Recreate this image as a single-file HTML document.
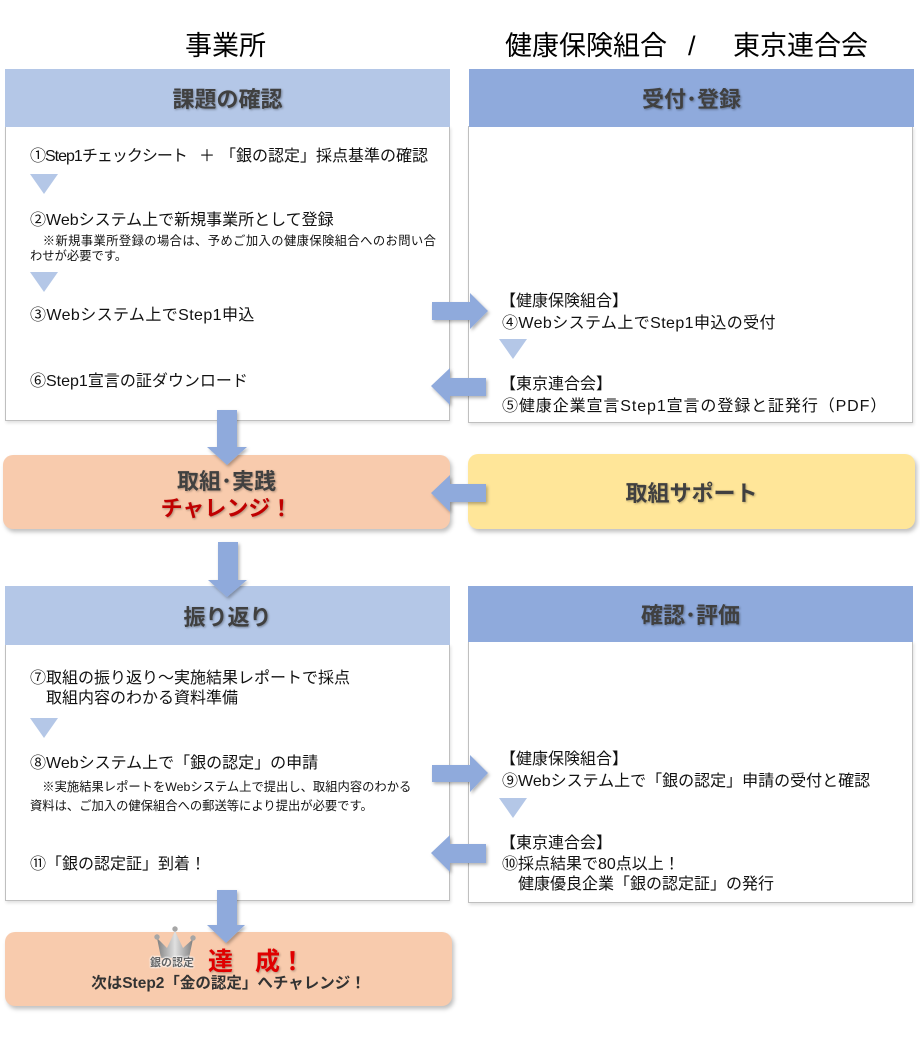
<!DOCTYPE html>
<html><head><meta charset="utf-8">
<style>
*{margin:0;padding:0;box-sizing:border-box}
html,body{width:920px;height:1041px;background:#fff;overflow:hidden}
body{position:relative;font-family:"Liberation Sans","Noto Sans CJK JP",sans-serif;color:#111}
.a{position:absolute;white-space:nowrap}
.title{font-size:27px;line-height:27px;color:#000}
.hdr{position:absolute;display:flex;align-items:center;justify-content:center;font-size:22px;font-weight:bold;color:#404040;text-shadow:1px 1px 2px rgba(0,0,0,.35)}
.body{position:absolute;border:1.5px solid #bfbfbf;border-top:none;background:#fff;box-shadow:1px 2px 3px rgba(0,0,0,.12)}
.t{font-size:16px;line-height:20px}
.n{font-size:12.3px;line-height:16px}
.tri{position:absolute;width:0;height:0;border-left:14px solid transparent;border-right:14px solid transparent;border-top:20px solid #b4c7e7}
.rbox{position:absolute;border-radius:10px;box-shadow:2px 3px 4px rgba(0,0,0,.25)}
svg{position:absolute;left:0;top:0}
</style></head><body>

<div class="a title" style="left:185px;top:33px">事業所</div>
<div class="a title" style="left:505px;top:33px">健康保険組合</div>
<div class="a title" style="left:688px;top:33px">/</div>
<div class="a title" style="left:733px;top:33px">東京連合会</div>

<!-- Section 1 left -->
<div class="body" style="left:5px;top:126px;width:445px;height:295px"></div>
<div class="hdr" style="left:5px;top:69px;width:445px;height:58px;background:#b4c7e7">課題の確認</div>
<!-- Section 1 right -->
<div class="body" style="left:468px;top:126px;width:445px;height:297px"></div>
<div class="hdr" style="left:469px;top:69px;width:445px;height:58px;background:#8faadc">受付･登録</div>

<div class="a t" style="left:30px;top:147px;letter-spacing:-1px">①Step1チェックシート</div>
<div class="a t" style="left:199px;top:147px">＋</div>
<div class="a t" style="left:220px;top:147px">「銀の認定」採点基準の確認</div>
<div class="tri" style="left:30px;top:174px"></div>
<div class="a t" style="left:30px;top:211px">②Webシステム上で新規事業所として登録</div>
<div class="a n" style="left:30px;top:233px;letter-spacing:0.4px">　※新規事業所登録の場合は、予めご加入の健康保険組合へのお問い合</div>
<div class="a n" style="left:30px;top:248px">わせが必要です。</div>
<div class="tri" style="left:30px;top:272px"></div>
<div class="a t" style="left:30px;top:306px;letter-spacing:0.4px">③Webシステム上でStep1申込</div>
<div class="a t" style="left:30px;top:372px">⑥Step1宣言の証ダウンロード</div>

<div class="a t" style="left:500px;top:292px">【健康保険組合】</div>
<div class="a t" style="left:502px;top:314px;letter-spacing:0.4px">④Webシステム上でStep1申込の受付</div>
<div class="tri" style="left:499px;top:339px"></div>
<div class="a t" style="left:500px;top:375px">【東京連合会】</div>
<div class="a t" style="left:502px;top:397px;letter-spacing:0.9px">⑤健康企業宣言Step1宣言の登録と証発行（PDF）</div>

<!-- Middle row -->
<div class="rbox" style="left:3px;top:455px;width:447px;height:74px;background:#f8cbad"></div>
<div class="a" style="left:3px;top:468px;width:447px;text-align:center;font-size:22px;line-height:28px;font-weight:bold;color:#404040;text-shadow:1px 1px 2px rgba(0,0,0,.3)">取組･実践</div>
<div class="a" style="left:3px;top:495px;width:447px;text-align:center;font-size:22px;line-height:28px;font-weight:bold;color:#c00000;text-shadow:1px 1px 2px rgba(0,0,0,.3)">チャレンジ！</div>
<div class="rbox" style="left:468px;top:454px;width:447px;height:75px;background:#ffe699"></div>
<div class="a" style="left:468px;top:480px;width:447px;text-align:center;font-size:22px;line-height:28px;font-weight:bold;color:#404040;text-shadow:1px 1px 2px rgba(0,0,0,.3)">取組サポート</div>

<!-- Section 2 left -->
<div class="body" style="left:5px;top:644px;width:445px;height:257px"></div>
<div class="hdr" style="left:5px;top:586px;width:445px;height:59px;background:#b4c7e7">振り返り</div>
<!-- Section 2 right -->
<div class="body" style="left:468px;top:641px;width:445px;height:262px"></div>
<div class="hdr" style="left:468px;top:586px;width:445px;height:56px;background:#8faadc">確認･評価</div>

<div class="a t" style="left:30px;top:669px">⑦取組の振り返り～実施結果レポートで採点</div>
<div class="a t" style="left:30px;top:689px">　取組内容のわかる資料準備</div>
<div class="tri" style="left:30px;top:718px"></div>
<div class="a t" style="left:30px;top:754px">⑧Webシステム上で「銀の認定」の申請</div>
<div class="a n" style="left:30px;top:779px">　※実施結果レポートをWebシステム上で提出し、取組内容のわかる</div>
<div class="a n" style="left:30px;top:798px">資料は、ご加入の健保組合への郵送等により提出が必要です。</div>
<div class="a t" style="left:30px;top:855px">⑪「銀の認定証」到着！</div>

<div class="a t" style="left:500px;top:750px">【健康保険組合】</div>
<div class="a t" style="left:502px;top:772px">⑨Webシステム上で「銀の認定」申請の受付と確認</div>
<div class="tri" style="left:499px;top:798px"></div>
<div class="a t" style="left:500px;top:834px">【東京連合会】</div>
<div class="a t" style="left:502px;top:855px">⑩採点結果で80点以上！</div>
<div class="a t" style="left:502px;top:875px">　健康優良企業「銀の認定証」の発行</div>

<!-- Final -->
<div class="rbox" style="left:5px;top:932px;width:447px;height:74px;background:#f8cbad"></div>

<svg width="920" height="1041" viewBox="0 0 920 1041">
  <defs>
    <filter id="sh" x="-20%" y="-20%" width="150%" height="150%">
      <feDropShadow dx="1.5" dy="2" stdDeviation="1.5" flood-color="#000" flood-opacity="0.3"/>
    </filter>
    <linearGradient id="cg" x1="0" y1="0" x2="1" y2="0">
      <stop offset="0" stop-color="#7f7f7f"/>
      <stop offset="0.5" stop-color="#e0e0e0"/>
      <stop offset="1" stop-color="#7f7f7f"/>
    </linearGradient>
  </defs>
  <g fill="#8faadc" filter="url(#sh)">
    <polygon points="217,410 237,410 237,447 247,447 227,465 207,447 217,447"/>
    <polygon points="218,542 238,542 238,580 247,580 227,597 208,580 218,580"/>
    <polygon points="217,890 237,890 237,925 245,925 226,943 207,925 217,925"/>
    <polygon points="432,302 470,302 470,293 488,311 470,329 470,320 432,320"/>
    <polygon points="432,765 470,765 470,755 488,773 470,792 470,782 432,782"/>
    <polygon points="486,378 450,378 450,368 431,386 450,405 450,396 486,396"/>
    <polygon points="486,484 450,484 450,475 431,493 450,512 450,502 486,502"/>
    <polygon points="486,844 450,844 450,835 431,853 450,872 450,863 486,863"/>
  </g>
  <g>
    <polygon points="161,958 157,938 167,948 175,931 183,948 193,939 189,958" fill="url(#cg)"/>
    <circle cx="157" cy="937" r="2.7" fill="#a6a6a6"/>
    <circle cx="175" cy="929" r="2.7" fill="#a6a6a6"/>
    <circle cx="193" cy="938" r="2.7" fill="#a6a6a6"/>
  </g>
</svg>

<div class="a" style="left:150px;top:956px;font-size:11px;line-height:14px;font-weight:bold;color:#666;text-shadow:0 0 2px #fff,0 0 2px #fff,0 0 2px #fff">銀の認定</div>
<div class="a" style="left:208px;top:947px;font-size:25px;line-height:30px;font-weight:bold;color:#e00000;text-shadow:1px 1px 2px rgba(0,0,0,.3)">達<span style="margin-left:22px">成！</span></div>
<div class="a" style="left:5px;top:974px;width:447px;text-align:center;font-size:15.5px;line-height:20px;font-weight:bold;color:#333">次はStep2「金の認定」へチャレンジ！</div>

</body></html>
